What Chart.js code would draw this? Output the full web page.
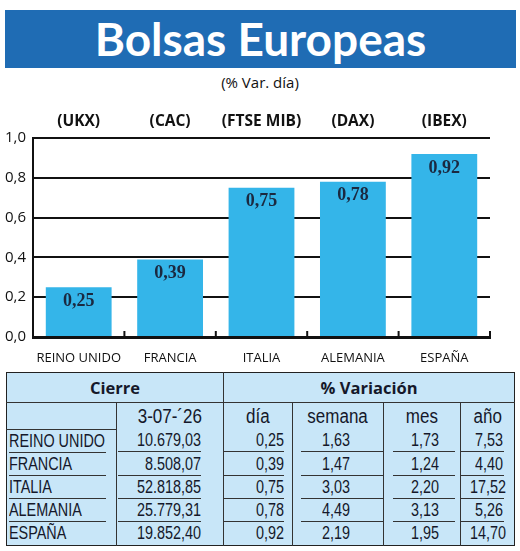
<!DOCTYPE html>
<html>
<head>
<meta charset="utf-8">
<script src="https://cdn.jsdelivr.net/npm/chart.js@4.4.1/dist/chart.umd.min.js"></script>
<style>
  body { margin: 0; background: #fff; width: 520px; height: 551px; position: relative; overflow: hidden; font-family: "Open Sans", sans-serif; }
  #banner { position: absolute; left: 5px; top: 10px; width: 511px; height: 58px; background: #1f6cb4; color: #fff;
    font: bold 46px "Lato", sans-serif; text-align: center; line-height: 58px; }
  #sub { position: absolute; left: 0; top: 72px; width: 520px; text-align: center; font-size: 15px; color: #111; }
  #chartBox { position: absolute; left: 0; top: 100px; width: 520px; height: 265px; }
  table { position: absolute; left: 6px; top: 372px; width: 508px; border-collapse: collapse; table-layout: fixed;
    background: #c8e6f8; border: 1.5px solid #222; color: #15182a;
    font-family: "Liberation Sans", sans-serif; font-size: 18px; }
  td { padding: 0; border-right: 1.5px solid #333; white-space: nowrap; overflow: hidden; }
  tr.h1 td { height: 29px; font: bold 16.5px "Open Sans", sans-serif; text-align: center; border-bottom: 1.5px solid #333; }
  tr.h2 td { height: 26px; text-align: center; font-size: 20px; }
  tr.d td { height: 23px; }
  .u { border-bottom: 1.5px solid #333; line-height: 21px; }
  tr.d:last-child .u { border-bottom: none; }
  .s { display: inline-block; transform: scaleX(0.8); }
  .h2 .s { transform: scaleX(0.85); transform-origin: center; }
</style>
</head>
<body>
<div id="banner">Bolsas Europeas</div>
<div id="sub">(% Var. día)</div>
<div id="chartBox"><canvas id="chart"></canvas></div>
<table id="tbl"></table>
<script>
const paises = ["REINO UNIDO", "FRANCIA", "ITALIA", "ALEMANIA", "ESPAÑA"];
const indices = ["(UKX)", "(CAC)", "(FTSE MIB)", "(DAX)", "(IBEX)"];
const dia = [0.25, 0.39, 0.75, 0.78, 0.92];
const cierre = ["10.679,03", "8.508,07", "52.818,85", "25.779,31", "19.852,40"];
const semana = ["1,63", "1,47", "3,03", "4,49", "2,19"];
const mes = ["1,73", "1,24", "2,20", "3,13", "1,95"];
const anio = ["7,53", "4,40", "17,52", "5,26", "14,70"];
const fecha = "3-07-´26";
const cabecera = ["día", "semana", "mes", "año"];

const coma = (v, d) => v.toFixed(d).replace(".", ",");

// tabla
const colW = [110, 107, 69, 91, 77, 54];
const pads = [[2, 10, "left", 0], [1, 22, "right", 0], [0, 8, "right", 0], [8, 0, "right", 33], [9, 5, "right", 16], [0, 10, "right", 1]];
let html = "<colgroup>" + colW.map(w => `<col style="width:${w}px">`).join("") + "</colgroup>";
html += `<tr class="h1"><td colspan="2">Cierre</td><td colspan="4" style="border-right:none">% Variación</td></tr>`;
html += `<tr class="h2"><td style="border-bottom:1.5px solid #333"></td><td><span class="s">${fecha}</span></td>` +
  cabecera.map((c, j) => `<td${j === 3 ? ' style="border-right:none"' : ''}><span class="s">${c}</span></td>`).join("") + `</tr>`;
paises.forEach((p, i) => {
  const vals = [p, cierre[i], coma(dia[i], 2), semana[i], mes[i], anio[i]];
  html += `<tr class="d">` + vals.map((v, j) => {
    const [ml, mr, al, pr] = pads[j];
    return `<td${j === 5 ? ' style="border-right:none"' : ''}><div class="u" style="margin:0 ${mr}px 0 ${ml}px;text-align:${al};padding-right:${pr}px">` +
      `<span class="s" style="transform-origin:${al}">${v}</span></div></td>`;
  }).join("") + `</tr>`;
});
document.getElementById("tbl").innerHTML = html;

// etiquetas dentro de las barras y marcas del eje
const extras = {
  id: "extras",
  afterDatasetsDraw(chart) {
    const ctx = chart.ctx;
    const meta = chart.getDatasetMeta(0);
    ctx.save();
    ctx.fillStyle = "#1b2940";
    ctx.font = "bold 18px 'Liberation Serif', serif";
    ctx.textAlign = "center";
    ctx.textBaseline = "middle";
    meta.data.forEach((bar, i) => {
      ctx.fillText(coma(dia[i], 2), bar.x, bar.y + 14);
    });
    const xs = chart.scales.x;
    const half = (xs.getPixelForValue(1) - xs.getPixelForValue(0)) / 2;
    ctx.strokeStyle = "#111";
    ctx.lineWidth = 2;
    for (let i = 0; i < paises.length; i++) {
      const x = xs.getPixelForValue(i) + half;
      ctx.beginPath();
      ctx.moveTo(x, chart.chartArea.bottom);
      ctx.lineTo(x, chart.chartArea.bottom - 6);
      ctx.stroke();
    }
    ctx.restore();
  }
};

new Chart(document.getElementById("chart"), {
  type: "bar",
  data: {
    labels: paises,
    datasets: [{
      data: dia,
      backgroundColor: "#34b5e9",
      borderWidth: 0,
      barPercentage: 0.72,
      categoryPercentage: 1
    }]
  },
  options: {
    responsive: true,
    maintainAspectRatio: false,
    animation: false,
    layout: { padding: { left: 0, right: 30, top: 0, bottom: 0 } },
    plugins: { legend: { display: false }, tooltip: { enabled: false } },
    scales: {
      x: {
        z: 1,
        grid: { display: false },
        border: { display: true, color: "#111", width: 3 },
        ticks: { color: "#111", padding: 5, font: { family: "Open Sans", size: 13 } },
        afterFit: s => { s.height = 28; }
      },
      x2: {
        type: "category",
        position: "top",
        labels: indices,
        grid: { display: false, drawTicks: false },
        border: { display: false },
        ticks: { color: "#111", padding: 7, font: { family: "Open Sans", size: 15.5, weight: "bold" } },
        afterFit: s => { s.height = 38; }
      },
      y: {
        min: 0,
        max: 1,
        grid: { color: "#111", lineWidth: 2, drawTicks: false },
        border: { display: true, color: "#111", width: 2 },
        ticks: {
          stepSize: 0.2,
          padding: 7,
          color: "#111",
          font: { family: "Open Sans", size: 15 },
          callback: v => coma(v, 1)
        },
        afterFit: s => { s.width = 33; }
      }
    }
  },
  plugins: [extras]
});
</script>
</body>
</html>
